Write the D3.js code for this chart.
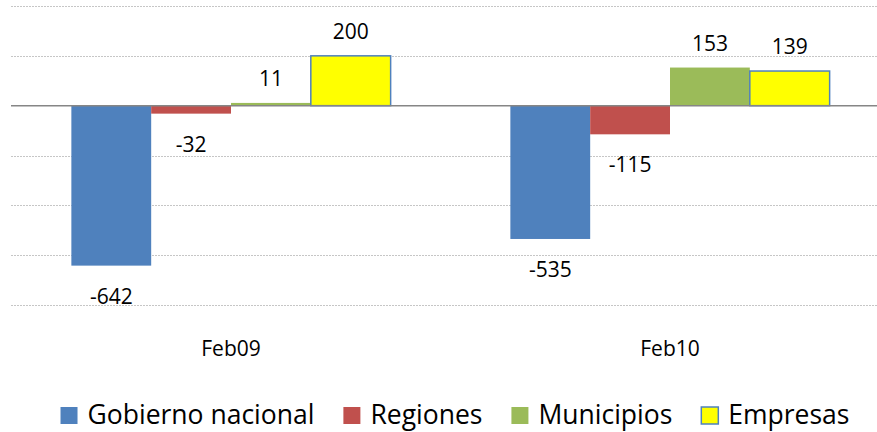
<!DOCTYPE html>
<html>
<head>
<meta charset="utf-8">
<script src="https://cdn.jsdelivr.net/npm/d3@7"></script>
<style>
  html, body { margin: 0; padding: 0; background: #fff; }
  svg { display: block; font-family: 'Open Sans', sans-serif; }
</style>
</head>
<body>
<div id="chart"></div>
<script>
const categories = ['Feb09', 'Feb10'];
const seriesNames = ['Gobierno nacional', 'Regiones', 'Municipios', 'Empresas'];
const gobiernoNacional = [-642, -535];
const regiones = [-32, -115];
const municipios = [11, 153];
const empresas = [200, 139];
const yTicks = [400, 200, 0, -200, -400, -600, -800];

const seriesValues = [gobiernoNacional, regiones, municipios, empresas];
const colors = ['#4F81BD', '#C0504D', '#9BBB59', '#FFFF00'];
const strokes = [null, null, null, '#4F81BD'];

const width = 877, height = 432;

const svg = d3.select('#chart').append('svg')
  .attr('width', width)
  .attr('height', height);

const x0 = d3.scaleBand()
  .domain(categories)
  .range([11.5, 889.5])
  .padding(0);

// Excel-like gap width of 150%
const unit = x0.bandwidth() / 5.5;
const x1 = d3.scaleBand()
  .domain(seriesNames)
  .range([unit * 0.75, unit * 4.75])
  .padding(0);

const y = d3.scaleLinear()
  .domain([-800, 400])
  .range([305, 6]);

// gridlines
svg.append('g')
  .selectAll('line')
  .data(yTicks.filter(d => d !== 0))
  .enter()
  .append('line')
  .attr('x1', 11)
  .attr('x2', width)
  .attr('y1', d => Math.round(y(d)) + 0.5)
  .attr('y2', d => Math.round(y(d)) + 0.5)
  .attr('stroke', '#C6C6C6')
  .attr('stroke-width', 1)
  .attr('stroke-dasharray', '2,1');

const rows = [];
categories.forEach((c, i) => {
  seriesNames.forEach((s, j) => {
    rows.push({ cat: c, series: s, idx: j, value: seriesValues[j][i] });
  });
});

// bars
svg.append('g')
  .selectAll('rect')
  .data(rows)
  .enter()
  .append('rect')
  .attr('x', d => x0(d.cat) + x1(d.series))
  .attr('y', d => y(Math.max(0, d.value)))
  .attr('width', x1.bandwidth())
  .attr('height', d => Math.abs(y(d.value) - y(0)))
  .attr('fill', d => colors[d.idx])
  .attr('stroke', d => strokes[d.idx] || 'none')
  .attr('stroke-width', 1.5);

// zero line
svg.append('line')
  .attr('x1', 11)
  .attr('x2', width)
  .attr('y1', y(0))
  .attr('y2', y(0))
  .attr('stroke', '#868686')
  .attr('stroke-width', 1.5);

// value labels
svg.append('g')
  .selectAll('text')
  .data(rows)
  .enter()
  .append('text')
  .attr('x', d => x0(d.cat) + x1(d.series) + x1.bandwidth() / 2)
  .attr('y', d => d.value >= 0 ? y(d.value) - 17 : y(d.value) + 38)
  .attr('text-anchor', 'middle')
  .attr('font-size', 21)
  .attr('fill', '#000')
  .text(d => d.value);

// category labels
svg.append('g')
  .selectAll('text')
  .data(categories)
  .enter()
  .append('text')
  .attr('x', d => x0(d) + x0.bandwidth() / 2)
  .attr('y', 356)
  .attr('text-anchor', 'middle')
  .attr('font-size', 21)
  .attr('fill', '#000')
  .text(d => d);

// legend
const legend = svg.append('g');
const items = legend.selectAll('g')
  .data(seriesNames)
  .enter()
  .append('g');

items.append('rect')
  .attr('y', 407)
  .attr('width', 17)
  .attr('height', 17)
  .attr('fill', (d, i) => colors[i])
  .attr('stroke', (d, i) => strokes[i] || 'none')
  .attr('stroke-width', 1.5);

items.append('text')
  .attr('x', 27)
  .attr('y', 424)
  .attr('font-size', 26.5)
  .attr('fill', '#000')
  .text(d => d);

let widths = [];
items.each(function () {
  widths.push(27 + d3.select(this).select('text').node().getComputedTextLength());
});
const gap = 29;
const total = d3.sum(widths) + gap * (widths.length - 1);
let cx = 455 - total / 2;
items.each(function (d, i) {
  d3.select(this).attr('transform', `translate(${cx}, 0)`);
  cx += widths[i] + gap;
});
</script>
</body>
</html>
